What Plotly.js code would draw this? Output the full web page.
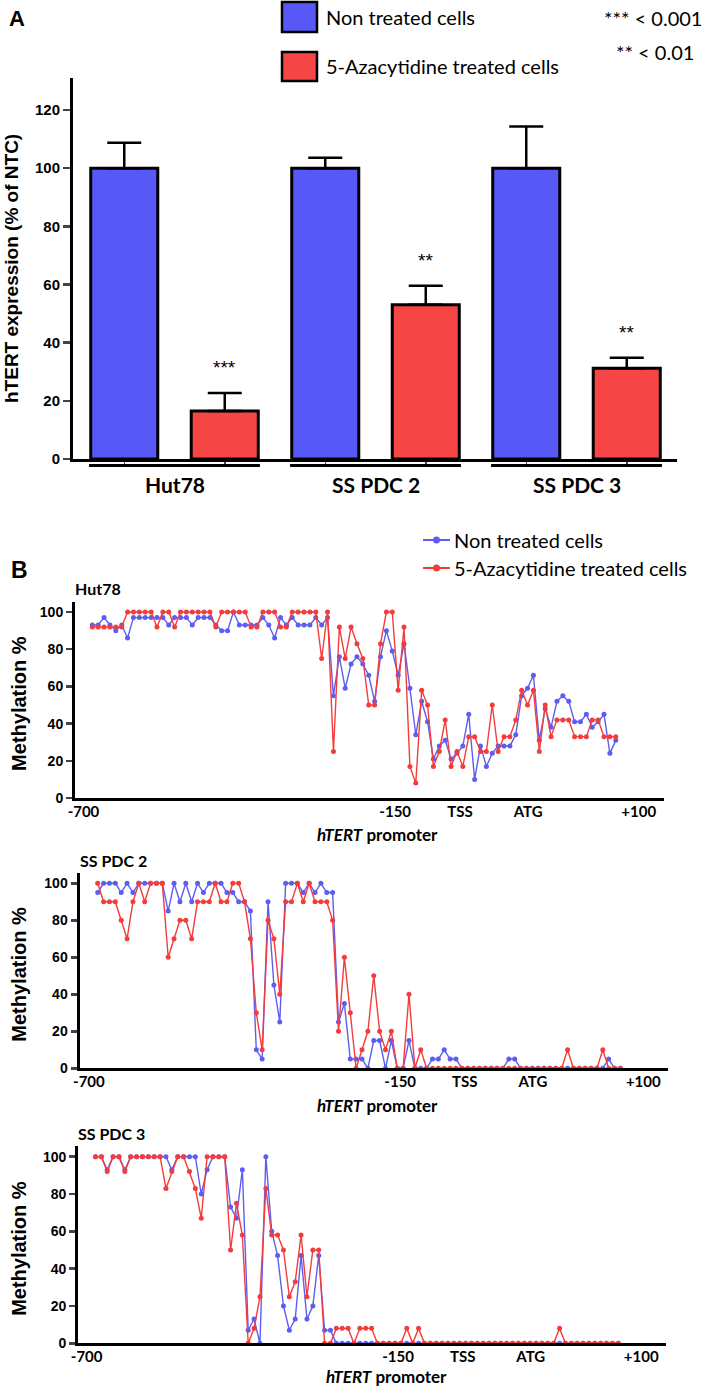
<!DOCTYPE html>
<html><head><meta charset="utf-8">
<script src="https://cdn.plot.ly/plotly-3.0.1.min.js"></script>
<style>body{margin:0;background:#fff}#chart{width:709px;height:1386px}</style>
</head><body><div id="chart"></div>
<script>
// ---------------- DATA ----------------
const groups = ['Hut78', 'SS PDC 2', 'SS PDC 3'];
const seriesNames = ['Non treated cells', '5-Azacytidine treated cells'];
const exprNonTreated = [100, 100, 100];
const exprNonTreatedErr = [8.7, 3.6, 14.3];
const exprTreated = [16.5, 53.0, 31.2];
const exprTreatedErr = [6.2, 6.6, 3.6];
const significance = ['***', '**', '**'];
const pvalueNotes = ['*** < 0.001', '** < 0.01'];
const exprTicks = [0, 20, 40, 60, 80, 100, 120];
const exprTitle = 'hTERT expression (% of NTC)';

const panelTitles = ['Hut78', 'SS PDC 2', 'SS PDC 3'];
const promoterTickLabels = ['-700', '-150', 'TSS', 'ATG', '+100'];
const promoterTickPos = [-1.5, 51.5, 62.5, 74.1, 92.9];
const methTicks = [0, 20, 40, 60, 80, 100];

const hut78NonTreated = [93,93,97,93,90,93,86,97,97,97,97,97,97,93,97,97,97,93,97,97,97,93,90,90,100,93,93,93,93,97,93,86,97,93,97,93,93,93,97,93,97,55,76,59,72,76,72,66,52,76,90,79,66,83,59,34,52,41,21,28,31,21,24,28,45,10,28,17,24,28,28,28,34,55,59,66,31,48,38,52,55,52,41,41,45,38,41,45,24,31];
const hut78Treated = [92,92,92,92,92,92,100,100,100,100,100,92,100,100,92,100,100,100,100,100,100,92,100,100,100,100,100,92,92,100,100,100,92,92,100,100,100,100,100,75,100,25,92,75,92,83,75,50,50,83,100,100,58,92,17,8,58,50,17,25,42,17,25,17,33,33,25,25,50,25,33,33,42,58,50,58,25,50,33,42,42,42,33,33,33,42,42,33,33,33];
const pdc2NonTreated = [95,100,100,100,95,100,95,100,100,100,100,100,85,100,90,100,90,100,95,100,100,100,95,95,90,90,85,10,5,90,45,25,100,100,100,95,100,95,100,95,95,25,35,5,5,5,0,15,15,0,15,0,0,15,0,0,0,5,5,10,5,5,0,0,0,0,0,0,0,0,5,5,0,0,0,0,0,0,0,0,0,0,0,0,0,0,0,5,0,0];
const pdc2Treated = [100,90,90,90,80,70,90,100,90,100,100,100,60,70,80,80,70,90,90,90,100,90,90,100,100,90,70,30,10,80,70,40,90,90,100,90,100,90,90,90,80,20,60,30,0,10,20,50,20,10,20,0,0,40,0,10,0,0,0,0,0,0,0,0,0,0,0,0,0,0,0,0,0,0,0,0,0,0,0,0,10,0,0,0,0,0,10,0,0,0];
const pdc3NonTreated = [100,100,93,100,100,93,100,100,100,100,100,100,100,93,100,100,100,100,80,93,100,100,100,73,67,93,7,13,0,100,60,47,20,7,13,47,13,20,47,7,7,0,0,0,0,0,0,0,0,0,0,0,0,0,0,0,0,0,0,0,0,0,0,0,0,0,0,0,0,0,0,0,0,0,0,0,0,0,0,0,0,0,0,0,0,0,0,0,0,0];
const pdc3Treated = [100,100,92,100,100,92,100,100,100,100,100,100,83,92,100,100,92,83,67,100,100,100,100,50,75,58,0,8,25,83,58,58,50,25,33,58,25,50,50,0,0,8,8,8,0,8,8,8,0,0,0,0,0,8,0,8,0,0,0,0,0,0,0,0,0,0,0,0,0,0,0,0,0,0,0,0,0,0,0,8,0,0,0,0,0,0,0,0,0,0];

// ---------------- STYLE / LAYOUT HELPERS ----------------
const W = 709, H = 1386;
const fx = p => p / W;
const fy = p => 1 - p / H;
const BLUE = '#5858f6', RED = '#f64545';
const LBLUE = '#5d5df2', LRED = '#f43c3c';
const CAL = 'Lato, "Open Sans", sans-serif';
const ARL = '"Liberation Sans", Arial, sans-serif';

const traces = [];
const barPosNT = groups.map((g, i) => 2 * i);
const barPosT = groups.map((g, i) => 2 * i + 1);
traces.push({
  type: 'bar', x: barPosNT, y: exprNonTreated, width: 0.667, name: seriesNames[0],
  marker: {color: BLUE, line: {color: '#000', width: 3}},
  error_y: {type: 'data', symmetric: false, array: exprNonTreatedErr, arrayminus: exprNonTreatedErr.map(() => 0), thickness: 2.5, width: 17, color: '#000'},
  xaxis: 'x', yaxis: 'y', showlegend: false, hoverinfo: 'skip'
});
traces.push({
  type: 'bar', x: barPosT, y: exprTreated, width: 0.667, name: seriesNames[1],
  marker: {color: RED, line: {color: '#000', width: 3}},
  error_y: {type: 'data', symmetric: false, array: exprTreatedErr, arrayminus: exprTreatedErr.map(() => 0), thickness: 2.5, width: 17, color: '#000'},
  xaxis: 'x', yaxis: 'y', showlegend: false, hoverinfo: 'skip'
});

const lineSets = [[hut78NonTreated, hut78Treated], [pdc2NonTreated, pdc2Treated], [pdc3NonTreated, pdc3Treated]];
lineSets.forEach((pair, k) => {
  const ax = k + 2;
  pair.forEach((vals, s) => {
    traces.push({
      type: 'scatter', mode: 'lines+markers', x: vals.map((v, i) => i), y: vals,
      name: seriesNames[s], showlegend: false, hoverinfo: 'skip',
      line: {color: s === 0 ? LBLUE : LRED, width: 1.4},
      marker: {color: s === 0 ? LBLUE : LRED, size: 5},
      xaxis: 'x' + ax, yaxis: 'y' + ax, cliponaxis: false
    });
  });
});

const layout = {
  width: W, height: H, margin: {l: 0, r: 0, t: 0, b: 0},
  paper_bgcolor: '#fff', plot_bgcolor: 'rgba(0,0,0,0)', showlegend: false,
  font: {family: ARL, color: '#000'},
  xaxis: {domain: [fx(73), fx(677)], range: [-0.51, 5.5], showline: true, linewidth: 3, linecolor: '#000',
    tickvals: [0, 1, 2, 3, 4, 5], ticks: 'outside', ticklen: 4, tickwidth: 1.5, showticklabels: false,
    showgrid: false, zeroline: false, fixedrange: true, anchor: 'y'},
  yaxis: {domain: [fy(459), fy(78)], range: [0, 131], showline: true, linewidth: 3, linecolor: '#000',
    tickvals: exprTicks, ticks: 'outside', ticklen: 7, tickwidth: 2.5,
    tickfont: {family: ARL, size: 15, weight: 700}, showgrid: false, zeroline: false, anchor: 'x'},
  shapes: [], annotations: []
};

const plotBox = [
  {x: [75, 664], y: [798, 601.8], range: [-2.94, 97.2], title: 588, promo: [378, 834]},
  {x: [79.5, 668], y: [1068.3, 873.1], range: [-3.1, 97.1], title: 860, promo: [378, 1105]},
  {x: [78.2, 665.9], y: [1343.3, 1146.4], range: [-2.94, 97.1], title: 1133, promo: [386, 1376]}
];
plotBox.forEach((b, k) => {
  const ax = k + 2;
  layout['xaxis' + ax] = {domain: [fx(b.x[0]), fx(b.x[1])], range: b.range, showline: true, linewidth: 3, linecolor: '#000',
    tickvals: promoterTickPos, ticktext: promoterTickLabels, ticks: '', ticklabelstandoff: -2,
    tickfont: {family: CAL, size: 15, weight: 700}, showgrid: false, zeroline: false, anchor: 'y' + ax};
  layout['yaxis' + ax] = {domain: [fy(b.y[0]), fy(b.y[1])], range: [0, 105.5], showline: true, linewidth: 3, linecolor: '#000',
    tickvals: methTicks, ticks: 'outside', ticklen: 6, tickwidth: 2.5,
    tickfont: {family: ARL, size: 14, weight: 700}, showgrid: false, zeroline: false, anchor: 'x' + ax};
  layout.annotations.push({xref: 'paper', yref: 'paper', x: fx(b.x[0] - 2), y: fy(b.title), xanchor: 'left', yanchor: 'middle',
    text: panelTitles[k], showarrow: false, font: {family: CAL, size: 16, weight: 700}});
  layout.annotations.push({xref: 'paper', yref: 'paper', x: fx(b.promo[0]), y: fy(b.promo[1]), xanchor: 'center', yanchor: 'middle',
    text: '<i>hTERT</i> promoter', showarrow: false, font: {family: CAL, size: 17, weight: 700}});
  layout.annotations.push({xref: 'paper', yref: 'paper', x: fx(19), y: fy((b.y[0] + b.y[1]) / 2 + 4), xanchor: 'center', yanchor: 'middle',
    text: 'Methylation %', textangle: -90, showarrow: false, font: {family: ARL, size: 20, weight: 700}});
});

// Panel labels and titles
layout.annotations.push({xref: 'paper', yref: 'paper', x: fx(7), y: fy(18), xanchor: 'left', yanchor: 'middle', text: 'A', showarrow: false, font: {family: ARL, size: 22, weight: 700}});
layout.annotations.push({xref: 'paper', yref: 'paper', x: fx(9), y: fy(570), xanchor: 'left', yanchor: 'middle', text: 'B', showarrow: false, font: {family: ARL, size: 23, weight: 700}});
layout.annotations.push({xref: 'paper', yref: 'paper', x: fx(11), y: fy(269), xanchor: 'center', yanchor: 'middle', text: exprTitle, textangle: -90, showarrow: false, font: {family: ARL, size: 19, weight: 700}});

// legend A squares
[[BLUE, 2, 32, 17], [RED, 52, 81, 66]].forEach((c, s) => {
  layout.shapes.push({type: 'rect', xref: 'paper', yref: 'paper', x0: fx(282), x1: fx(317), y0: fy(c[2]), y1: fy(c[1]), fillcolor: c[0], line: {color: '#000', width: 2.5}});
  layout.annotations.push({xref: 'paper', yref: 'paper', x: fx(324), y: fy(c[3]), xanchor: 'left', yanchor: 'middle', text: seriesNames[s], showarrow: false, font: {family: CAL, size: 20}});
});
layout.annotations.push({xref: 'paper', yref: 'paper', x: fx(602), y: fy(18), xanchor: 'left', yanchor: 'middle', text: pvalueNotes[0], showarrow: false, font: {family: CAL, size: 20}});
layout.annotations.push({xref: 'paper', yref: 'paper', x: fx(614), y: fy(52), xanchor: 'left', yanchor: 'middle', text: pvalueNotes[1], showarrow: false, font: {family: CAL, size: 20}});

// group underlines + labels
groups.forEach((g, i) => {
  const c = 2 * i + 0.5;
  layout.shapes.push({type: 'line', xref: 'x', yref: 'paper', x0: c - 0.85, x1: c + 0.85, y0: fy(465.5), y1: fy(465.5), line: {color: '#000', width: 3}});
  layout.annotations.push({xref: 'x', yref: 'paper', x: c, y: fy(484), xanchor: 'center', yanchor: 'middle', text: g, showarrow: false, font: {family: CAL, size: 21, weight: 700}});
  layout.annotations.push({xref: 'x', yref: 'y', x: 2 * i + 1, y: exprTreated[i] + exprTreatedErr[i] + 4.5, xanchor: 'center', yanchor: 'bottom', text: significance[i], showarrow: false, font: {family: ARL, size: 19}});
});

// legend B
[[LBLUE, 540], [LRED, 568]].forEach((c, s) => {
  layout.shapes.push({type: 'line', xref: 'paper', yref: 'paper', x0: fx(423), x1: fx(450), y0: fy(c[1]), y1: fy(c[1]), line: {color: c[0], width: 2}});
  layout.shapes.push({type: 'circle', xref: 'paper', yref: 'paper', x0: fx(433), x1: fx(440), y0: fy(c[1] + 3.5), y1: fy(c[1] - 3.5), fillcolor: c[0], line: {color: c[0], width: 0}});
  layout.annotations.push({xref: 'paper', yref: 'paper', x: fx(452), y: fy(c[1]), xanchor: 'left', yanchor: 'middle', text: seriesNames[s], showarrow: false, font: {family: CAL, size: 20}});
});

Plotly.newPlot('chart', traces, layout, {staticPlot: true, displayModeBar: false});
</script></body></html>
